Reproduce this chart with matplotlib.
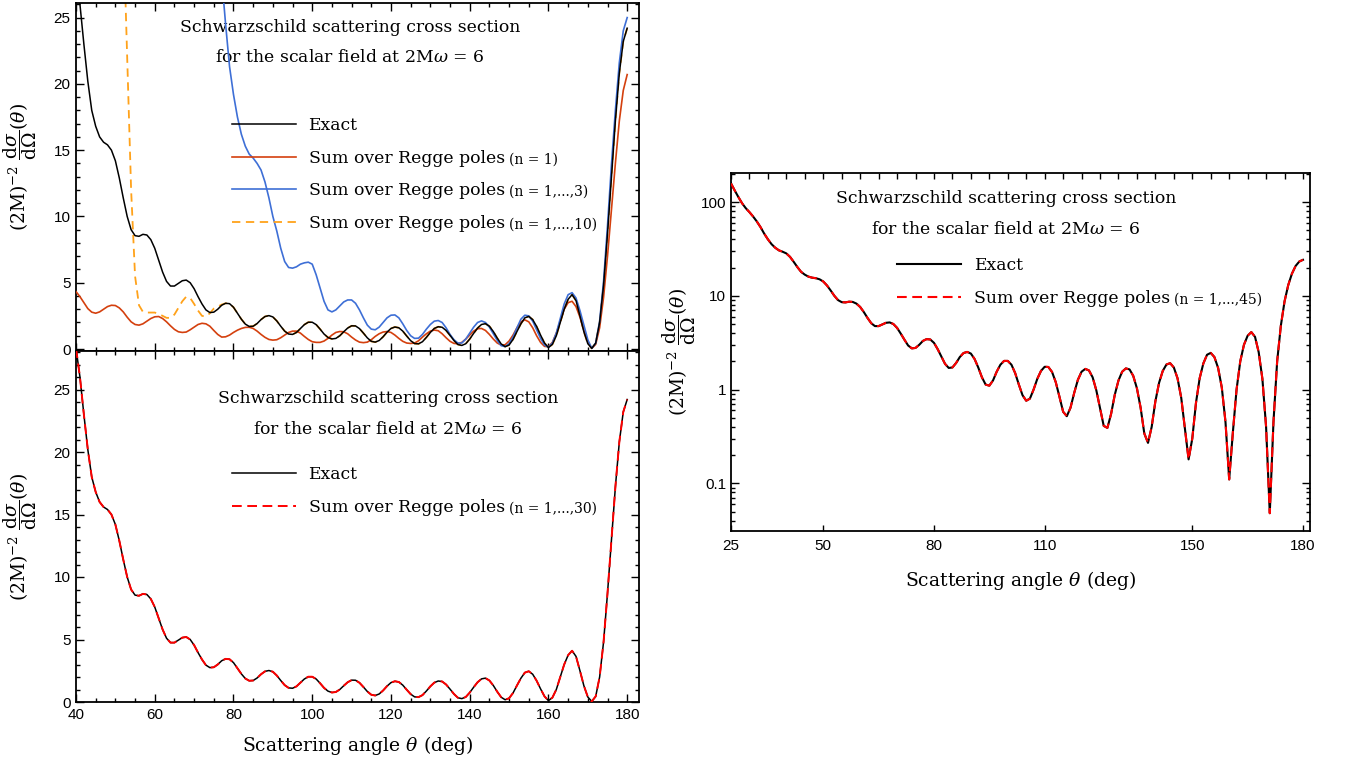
import matplotlib
matplotlib.use("Agg")
import matplotlib.pyplot as plt
from matplotlib.transforms import IdentityTransform
from matplotlib.ticker import MultipleLocator, FixedLocator, LogLocator, FixedFormatter, NullFormatter

# ---------------- data ----------------
theta_exact = list(range(25, 181))   # degrees, 1-degree grid
exact = [
    158, 133, 113, 97, 86, 78, 70, 62, 54, 46,                 # 25-34
    40, 35.5, 32.5, 30.5, 29.5, 28.3, 26, 23, 20.2, 18.0,      # 35-44
    16.8, 16.0, 15.6, 15.4, 15.0, 14.2, 12.9, 11.4, 10.0, 9.0, # 45-54
    8.55, 8.5, 8.65, 8.6, 8.25, 7.6, 6.7, 5.8, 5.1, 4.75,      # 55-64
    4.75, 4.95, 5.15, 5.2, 5.0, 4.55, 3.95, 3.4, 2.95, 2.75,   # 65-74
    2.78, 3.0, 3.3, 3.45, 3.42, 3.15, 2.7, 2.25, 1.88, 1.7,    # 75-84
    1.72, 1.92, 2.22, 2.45, 2.52, 2.42, 2.12, 1.72, 1.35, 1.13,# 85-94
    1.1, 1.25, 1.55, 1.84, 2.02, 2.02, 1.84, 1.5, 1.13, 0.87,  # 95-104
    0.76, 0.8, 1.0, 1.3, 1.58, 1.75, 1.74, 1.54, 1.2, 0.84,    # 105-114
    0.58, 0.52, 0.64, 0.92, 1.27, 1.55, 1.66, 1.6, 1.35, 0.98, # 115-124
    0.63, 0.41, 0.39, 0.55, 0.88, 1.25, 1.55, 1.68, 1.64, 1.4, # 125-134
    1.03, 0.64, 0.34, 0.27, 0.4, 0.75, 1.18, 1.58, 1.85, 1.91, # 135-144
    1.72, 1.32, 0.82, 0.38, 0.18, 0.3, 0.72, 1.32, 1.9, 2.35,  # 145-154
    2.46, 2.22, 1.7, 1.05, 0.45, 0.11, 0.35, 1.0, 2.0, 3.0,    # 155-164
    3.75, 4.1, 3.65, 2.5, 1.3, 0.4, 0.048, 0.45, 2.0, 4.8,     # 165-174
    8.7, 13.0, 17.2, 20.8, 23.2, 24.2,                         # 175-180
]

theta_n1 = list(range(40, 181))
regge_n1 = [
    4.33, 3.95, 3.5, 3.05, 2.78, 2.7, 2.8, 3.0, 3.2, 3.3,      # 40-49
    3.28, 3.1, 2.8, 2.4, 2.05, 1.85, 1.8, 1.9, 2.1, 2.3,       # 50-59
    2.43, 2.45, 2.3, 2.05, 1.75, 1.48, 1.3, 1.25, 1.28, 1.45,  # 60-69
    1.65, 1.85, 1.94, 1.9, 1.72, 1.4, 1.1, 0.9, 0.92, 1.05,    # 70-79
    1.25, 1.42, 1.55, 1.63, 1.64, 1.55, 1.35, 1.1, 0.88, 0.72, # 80-89
    0.67, 0.7, 0.85, 1.05, 1.25, 1.35, 1.35, 1.2, 0.95, 0.72,  # 90-99
    0.55, 0.5, 0.5, 0.6, 0.8, 1.05, 1.25, 1.32, 1.3, 1.15,     # 100-109
    0.9, 0.68, 0.52, 0.48, 0.52, 0.7, 0.95, 1.15, 1.28, 1.32,  # 110-119
    1.25, 1.05, 0.8, 0.58, 0.45, 0.42, 0.45, 0.62, 0.9, 1.15,  # 120-129
    1.35, 1.43, 1.38, 1.15, 0.85, 0.58, 0.42, 0.4, 0.5, 0.75,  # 130-139
    1.05, 1.35, 1.53, 1.55, 1.4, 1.1, 0.75, 0.45, 0.3, 0.32,   # 140-149
    0.6, 1.05, 1.6, 2.05, 2.2, 2.05, 1.6, 1.0, 0.5, 0.2,       # 150-159
    0.17, 0.5, 1.2, 2.1, 3.0, 3.5, 3.6, 3.2, 2.4, 1.4,         # 160-169
    0.55, 0.05, 0.35, 1.6, 3.9, 7.0, 10.5, 14.0, 17.2, 19.5,   # 170-179
    20.7,                                                      # 180
]

theta_n3 = list(range(75, 181))
regge_n3 = [
    35, 31, 28, 24.5, 21.3,                                    # 75-79
    19.2, 17.5, 16.2, 15.3, 14.7, 14.4, 14.0, 13.5, 12.6, 11.4,# 80-89
    10.0, 8.9, 7.6, 6.6, 6.15, 6.1, 6.2, 6.4, 6.5, 6.55,       # 90-99
    6.4, 5.6, 4.6, 3.6, 2.95, 2.8, 2.95, 3.25, 3.55, 3.7,      # 100-109
    3.7, 3.45, 2.95, 2.35, 1.8, 1.5, 1.45, 1.65, 2.0, 2.35,    # 110-119
    2.55, 2.57, 2.35, 1.9, 1.4, 1.0, 0.8, 0.82, 1.1, 1.5,      # 120-129
    1.85, 2.1, 2.15, 2.0, 1.6, 1.1, 0.7, 0.45, 0.45, 0.75,     # 130-139
    1.2, 1.65, 2.0, 2.12, 2.0, 1.65, 1.15, 0.65, 0.25, 0.18,   # 140-149
    0.4, 0.9, 1.6, 2.25, 2.55, 2.5, 2.1, 1.45, 0.8, 0.3,       # 150-159
    0.13, 0.45, 1.2, 2.3, 3.4, 4.1, 4.25, 3.85, 2.9, 1.8,      # 160-169
    0.7, 0.05, 0.45, 2.1, 5.1, 9.3, 13.9, 18.0, 21.6, 24.0,    # 170-179
    25.0,                                                      # 180
]

theta_n10 = list(range(52, 181))
regge_n10 = [
    32, 22, 12, 5.5, 3.3, 2.8, 2.75, 2.75,                     # 52-59
    2.75, 2.65, 2.5, 2.35, 2.35, 2.6, 3.1, 3.6, 3.95, 3.85,    # 60-69
    3.4, 2.9, 2.5, 2.45, 2.7, 3.05, 3.2, 3.35, 3.45,           # 70-78
] + exact[79 - 25:]                                            # 79-180 coincide with exact

regge_n30 = list(exact)   # visually identical to the exact curve
regge_n45 = list(exact)   # visually identical to the exact curve

for t, v in [(theta_exact, exact), (theta_n1, regge_n1), (theta_n3, regge_n3), (theta_n10, regge_n10)]:
    assert len(t) == len(v), (len(t), len(v))

title1 = "Schwarzschild scattering cross section"
title2 = r"for the scalar field at 2M$\omega$ = 6"
ylabel = r"$(2\mathrm{M})^{-2}\ \dfrac{\mathrm{d}\sigma}{\mathrm{d}\Omega}(\theta)$"
xlabel = r"Scattering angle $\theta$ (deg)"
sum_label = "Sum over Regge poles"
n_labels = {"n1": "(n = 1)", "n3": "(n = 1,...,3)", "n10": "(n = 1,...,10)",
            "n30": "(n = 1,...,30)", "n45": "(n = 1,...,45)"}

# ---------------- style ----------------
plt.rcParams['font.family'] = ['DejaVu Serif']
plt.rcParams['mathtext.fontset'] = 'dejavuserif'
plt.rcParams['lines.scale_dashes'] = False

W, H = 1346, 767
fig = plt.figure(figsize=(W / 100, H / 100), dpi=100)

def px_axes(l, t, r, b):
    return fig.add_axes([l / W, 1 - b / H, (r - l) / W, (b - t) / H])

ax1 = px_axes(76, 3, 639, 351)
ax2 = px_axes(76, 351, 639, 702)
ax3 = px_axes(731, 173, 1310, 531)

TICKFONT = 'Liberation Sans'
TXT = 12.4
SMALL = 10.0
LBL = 13.5

def style_lin(ax, show_xlabels):
    ax.xaxis.set_major_locator(MultipleLocator(20))
    ax.xaxis.set_minor_locator(MultipleLocator(5))
    ax.yaxis.set_major_locator(MultipleLocator(5))
    ax.yaxis.set_minor_locator(MultipleLocator(1))
    ax.tick_params(which='both', direction='in', top=True, right=True,
                   labelfontfamily=TICKFONT, labelsize=11, width=1.0, pad=4)
    ax.tick_params(which='major', length=5.5)
    ax.tick_params(which='minor', length=3)
    if not show_xlabels:
        ax.tick_params(axis='x', labelbottom=False)
    for s in ax.spines.values():
        s.set_linewidth(1.3)

legend_extras = []

def make_legend(ax, handles, extras, anchor):
    leg = ax.legend(handles, [h.get_label() for h in handles], loc='upper left',
                    bbox_to_anchor=anchor, frameon=False, fontsize=TXT,
                    handlelength=3.7, handletextpad=0.75, labelspacing=0.9,
                    borderpad=0, borderaxespad=0)
    legend_extras.append((leg, extras))
    return leg

RED_ORANGE = '#D4400E'
BLUE = '#3E6FD6'
ORANGE = '#FFA21A'

# ---------------- upper-left panel ----------------
l10, = ax1.plot(theta_n10, regge_n10, color=ORANGE, lw=1.3, dashes=(6, 4),
                label=sum_label, zorder=2)
l1, = ax1.plot(theta_n1, regge_n1, color=RED_ORANGE, lw=1.2, label=sum_label, zorder=3)
l3, = ax1.plot(theta_n3, regge_n3, color=BLUE, lw=1.2, label=sum_label, zorder=4)
le, = ax1.plot(theta_exact, exact, color='black', lw=1.1, label='Exact', zorder=5)
ax1.set_xlim(40, 183)
ax1.set_ylim(-0.15, 26.1)
style_lin(ax1, False)
make_legend(ax1, [le, l1, l3, l10], [None, n_labels["n1"], n_labels["n3"], n_labels["n10"]],
            (0.277, 0.672))
ax1.text(0.487, 0.931, title1, transform=ax1.transAxes, ha='center', va='center', fontsize=TXT)
ax1.text(0.487, 0.842, title2, transform=ax1.transAxes, ha='center', va='center', fontsize=TXT)
ax1.set_ylabel(ylabel, fontsize=LBL)
ax1.yaxis.set_label_coords(-0.066, 0.53)

# ---------------- lower-left panel ----------------
e2, = ax2.plot(theta_exact, exact, color='black', lw=1.1, label='Exact', zorder=3)
r2, = ax2.plot(theta_exact, regge_n30, color='red', lw=1.4, dashes=(7, 4),
               label=sum_label, zorder=4)
ax2.set_xlim(40, 183)
ax2.set_ylim(0, 28.08)
style_lin(ax2, True)
make_legend(ax2, [e2, r2], [None, n_labels["n30"]], (0.277, 0.672))
ax2.text(0.554, 0.866, title1, transform=ax2.transAxes, ha='center', va='center', fontsize=TXT)
ax2.text(0.554, 0.775, title2, transform=ax2.transAxes, ha='center', va='center', fontsize=TXT)
ax2.set_ylabel(ylabel, fontsize=LBL)
ax2.yaxis.set_label_coords(-0.066, 0.47)
ax2.set_xlabel(xlabel, fontsize=LBL, labelpad=9)

# ---------------- right panel (log) ----------------
e3, = ax3.plot(theta_exact, exact, color='black', lw=1.5, label='Exact', zorder=3)
r3, = ax3.plot(theta_exact, regge_n45, color='red', lw=1.5, dashes=(7, 4),
               label=sum_label, zorder=4)
ax3.set_yscale('log')
ax3.set_xlim(25, 181.9)
ax3.set_ylim(0.031, 204)
ax3.xaxis.set_major_locator(FixedLocator([25, 50, 80, 110, 150, 180]))
ax3.xaxis.set_minor_locator(MultipleLocator(5))
ax3.xaxis.remove_overlapping_locs = False
ax3.yaxis.set_major_locator(FixedLocator([0.1, 1, 10, 100]))
ax3.yaxis.set_major_formatter(FixedFormatter(['0.1', '1', '10', '100']))
ax3.yaxis.set_minor_locator(LogLocator(base=10, subs=[2, 3, 4, 5, 6, 7, 8, 9], numticks=20))
ax3.yaxis.set_minor_formatter(NullFormatter())
ax3.tick_params(which='both', direction='in', labelfontfamily=TICKFONT, labelsize=11, width=1.0)
ax3.tick_params(axis='x', which='major', bottom=True, top=False, length=4, pad=6)
ax3.tick_params(axis='x', which='minor', bottom=False, top=True, length=4)
ax3.tick_params(axis='y', which='both', left=True, right=True)
ax3.tick_params(axis='y', which='major', length=5.5)
ax3.tick_params(axis='y', which='minor', length=3)
for s in ax3.spines.values():
    s.set_linewidth(1.3)
make_legend(ax3, [e3, r3], [None, n_labels["n45"]], (0.287, 0.765))
ax3.text(0.475, 0.930, title1, transform=ax3.transAxes, ha='center', va='center', fontsize=TXT)
ax3.text(0.475, 0.841, title2, transform=ax3.transAxes, ha='center', va='center', fontsize=TXT)
ax3.set_ylabel(ylabel, fontsize=LBL)
ax3.yaxis.set_label_coords(-0.057, 0.5)
ax3.set_xlabel(xlabel, fontsize=LBL, labelpad=11)

# smaller "(n = ...)" suffix after each legend label, placed once the legend is laid out
fig.canvas.draw()
renderer = fig.canvas.get_renderer()
for leg, extras in legend_extras:
    for txt, extra in zip(leg.get_texts(), extras):
        if extra:
            bb = txt.get_window_extent(renderer)
            fig.text(bb.x1 + 4, bb.y0, extra, transform=IdentityTransform(),
                     ha='left', va='bottom', fontsize=SMALL)

fig.savefig('out.png', dpi=100)
